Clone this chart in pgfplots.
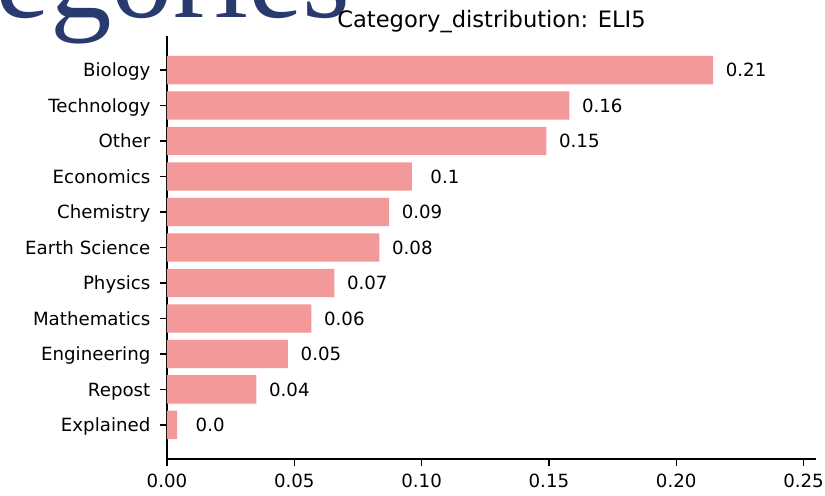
\documentclass[border=0pt]{standalone}
\usepackage{pgfplots}
\pgfplotsset{compat=1.18}
\usepackage{fontspec}
\setmainfont{DejaVu Sans}
\newfontfamily\bigserif{Liberation Serif}
\definecolor{barcol}{RGB}{243,153,153}
\definecolor{navy}{RGB}{40,58,110}
\begin{document}
\begin{tikzpicture}
\useasboundingbox (-83.5pt,-18.5pt) rectangle (329pt,229.5pt);
\clip (-83.5pt,-18.5pt) rectangle (329pt,229.5pt);
\node[anchor=base east, inner sep=0pt, text=navy, font=\bigserif\fontsize{61.5}{64}\selectfont] at (92pt,220.5pt) {Categories};
\begin{axis}[
  at={(0,0)}, anchor=south west,
  scale only axis,
  width=324.5pt, height=211.5pt,
  xbar, bar width=0.8,
  xmin=0, xmax=0.2549,
  ymin=-0.96, ymax=10.96,
  axis x line*=bottom, axis y line*=left,
  axis line style={line width=0.75pt, black},
  every tick/.style={line width=0.6pt, black},
  tick align=outside,
  major tick length=3.3pt,
  xtick={0,0.05,0.1,0.15,0.2,0.25},
  xticklabels={0.00,0.05,0.10,0.15,0.20,0.25},
  ytick={0,1,2,3,4,5,6,7,8,9,10},
  yticklabels={Explained,Repost,Engineering,Mathematics,Physics,Earth Science,Chemistry,Economics,Other,Technology,Biology},
  tick label style={font=\fontsize{9.1}{11}\selectfont},
  xticklabel style={yshift=-0.5pt},
  yticklabel style={anchor=base east, yshift=-3.3pt, xshift=-1.5pt},
  /pgf/number format/assume math mode=true,
  title={Category\_distribution: ELI5},
  title style={at={(0.5,1)}, anchor=base, yshift=-2pt, font=\fontsize{11.3}{13}\selectfont},
  nodes near coords,
  point meta=explicit symbolic,
  every node near coord/.append style={anchor=center, xshift=16.5pt, font=\fontsize{9.1}{11}\selectfont, text=black},
  clip=false,
]
\addplot[fill=barcol, draw=none] table[x=v, y=y, meta=lab] {
v y lab
0.0040 0 0.0
0.0351 1 0.04
0.0475 2 0.05
0.0567 3 0.06
0.0657 4 0.07
0.0834 5 0.08
0.0872 6 0.09
0.0962 7 0.1
0.1490 8 0.15
0.1580 9 0.16
0.2145 10 0.21
};
\end{axis}
\end{tikzpicture}
\end{document}
